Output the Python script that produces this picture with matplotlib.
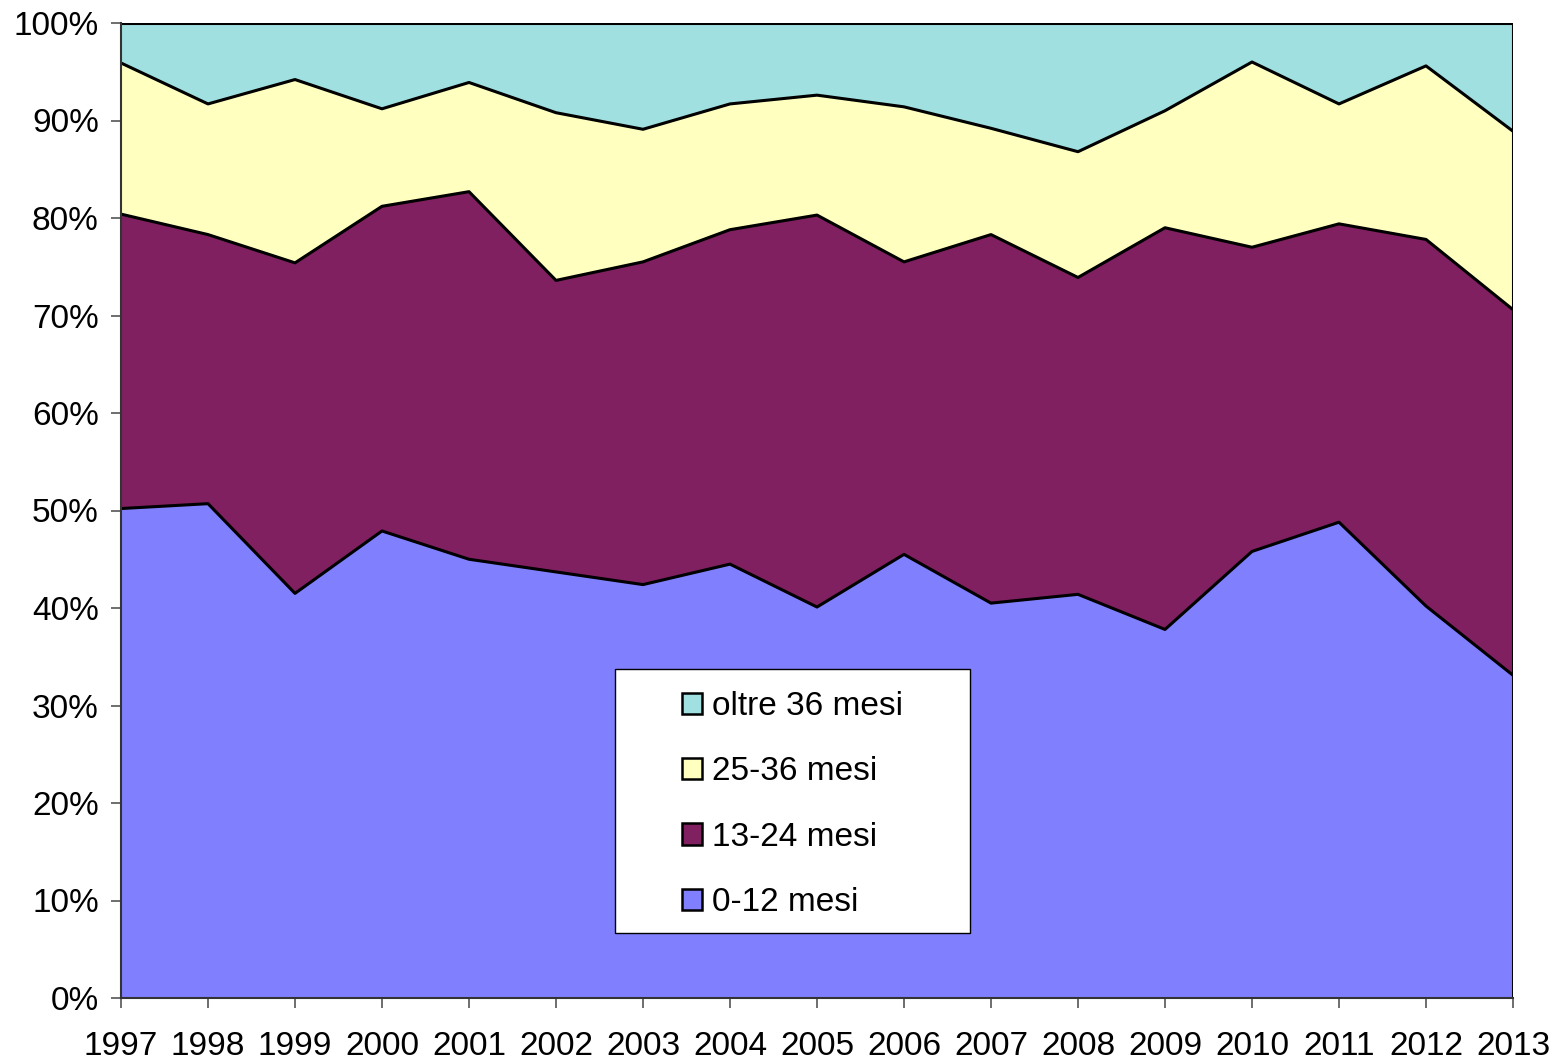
import matplotlib
matplotlib.use("Agg")
import matplotlib.pyplot as plt
import numpy as np
from matplotlib.patches import Patch, Rectangle
from matplotlib.ticker import FuncFormatter

plt.rcParams['font.family'] = ['Liberation Sans', 'DejaVu Sans']

anni = list(range(1997, 2014))
# cumulative shares (%)
mesi_0_12 = [50.2, 50.7, 41.5, 47.9, 45.0, 43.7, 42.4, 44.5, 40.1, 45.5, 40.5, 41.4, 37.8, 45.8, 48.8, 40.2, 33.1]
cum_13_24 = [80.4, 78.3, 75.4, 81.2, 82.7, 73.6, 75.5, 78.8, 80.3, 75.5, 78.3, 73.9, 79.0, 77.0, 79.4, 77.8, 70.6]
cum_25_36 = [95.9, 91.7, 94.2, 91.2, 93.9, 90.8, 89.1, 91.7, 92.6, 91.4, 89.2, 86.8, 91.0, 96.0, 91.7, 95.6, 88.9]
totale = [100.0] * len(anni)

etichette = ['0-12 mesi', '13-24 mesi', '25-36 mesi', 'oltre 36 mesi']
colori = ['#8080FF', '#802060', '#FFFFC0', '#A0E0E0']

x = np.array(anni)
strati = [np.zeros(len(anni)), np.array(mesi_0_12), np.array(cum_13_24),
          np.array(cum_25_36), np.array(totale)]

W, H = 1556, 1060
fig = plt.figure(figsize=(W/100, H/100), dpi=100)
ax = fig.add_axes([121/W, 1 - 998/H, (1513-121)/W, (998-23)/H])

for i in range(4):
    ax.fill_between(x, strati[i], strati[i+1], facecolor=colori[i],
                    edgecolor='none', zorder=1)
    ax.plot(x, strati[i+1], color='black', lw=2.2, zorder=3)
ax.plot([x[-1], x[-1]], [0, 100], color='black', lw=2.2, zorder=3)

ax.set_xlim(1997, 2013)
ax.set_ylim(0, 100)
ax.set_xticks(anni)
ax.set_yticks(range(0, 101, 10))
ax.yaxis.set_major_formatter(FuncFormatter(lambda v, p: '%d%%' % v))
ax.tick_params(axis='both', labelsize=24, length=7, width=1.2, color='#555555', direction='out')
ax.tick_params(axis='x', pad=17)
ax.tick_params(axis='y', pad=9)
for s in ['top', 'right']:
    ax.spines[s].set_visible(False)
for s in ['left', 'bottom']:
    ax.spines[s].set_color('#333333')
    ax.spines[s].set_linewidth(1.5)
    ax.spines[s].set_zorder(4)

# legend box (figure pixels 615..970 x 669..933)
box = Rectangle((615/W, 1 - 933/H), (970-615)/W, (933-669)/H, transform=fig.transFigure,
                facecolor='white', edgecolor='black', lw=1.0, zorder=5)
fig.patches.append(box)

handles = [Patch(facecolor=colori[i], edgecolor='black', lw=1.8, label=etichette[i]) for i in range(3, -1, -1)]
leg = fig.legend(handles=handles, loc='upper left',
                 bbox_to_anchor=(682/W, 1 - 691/H),
                 fontsize=24, frameon=False,
                 handlelength=0.6, handleheight=0.6,
                 handletextpad=0.3, labelspacing=1.03, borderpad=0, borderaxespad=0)
leg.set_zorder(6)

fig.savefig('out.png', dpi=100)
